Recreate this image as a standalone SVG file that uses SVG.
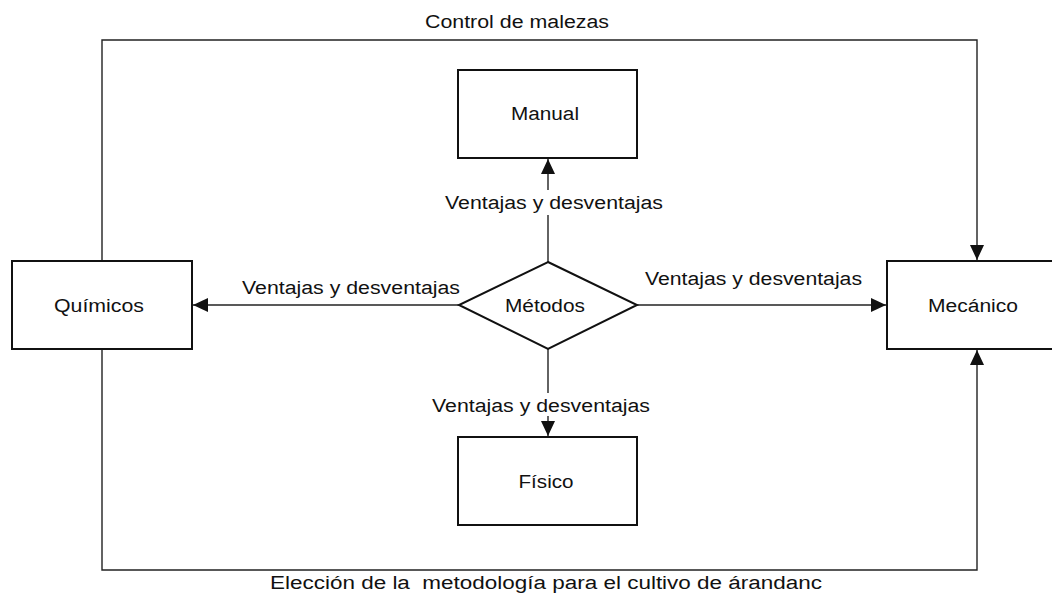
<svg xmlns="http://www.w3.org/2000/svg" width="1052" height="595" viewBox="0 0 1052 595">
<style>
text{font-family:"Liberation Sans",Arial,sans-serif;font-size:18px;fill:#111;}
.box{fill:#fff;stroke:#111;stroke-width:2;}
.ln{fill:none;stroke:#222;stroke-width:1.4;}
.bg{fill:#fff;stroke:none;}
</style>
<defs>
<marker id="arr" markerUnits="userSpaceOnUse" markerWidth="16" markerHeight="14" refX="15" refY="7" orient="auto">
<path d="M0,0 L15,7 L0,14 Z" fill="#111"/>
</marker>
</defs>
<rect width="1052" height="595" fill="#fff"/>
<g id="connectors">
<polyline class="ln" points="102,261 102,40 977,40 977,260" marker-end="url(#arr)"/>
<polyline class="ln" points="102,349 102,570 977,570 977,350" marker-end="url(#arr)"/>
<line class="ln" x1="548" y1="262" x2="548" y2="159" marker-end="url(#arr)"/>
<line class="ln" x1="548" y1="349" x2="548" y2="436" marker-end="url(#arr)"/>
<line class="ln" x1="459" y1="305" x2="193" y2="305" marker-end="url(#arr)"/>
<line class="ln" x1="637" y1="305" x2="886" y2="305" marker-end="url(#arr)"/>
</g>
<g id="n-quimicos"><rect class="box" x="12" y="261" width="180" height="88"/><text x="99" y="312" text-anchor="middle" textLength="90" lengthAdjust="spacingAndGlyphs">Químicos</text></g>
<g id="n-mecanico"><rect class="box" x="887" y="261" width="175" height="88"/><text x="973" y="312" text-anchor="middle" textLength="90" lengthAdjust="spacingAndGlyphs">Mecánico</text></g>
<g id="n-manual"><rect class="box" x="458" y="70" width="179" height="88"/><text x="545" y="120" text-anchor="middle" textLength="68" lengthAdjust="spacingAndGlyphs">Manual</text></g>
<g id="n-fisico"><rect class="box" x="458" y="437" width="179" height="88"/><text x="546" y="488" text-anchor="middle" textLength="55" lengthAdjust="spacingAndGlyphs">Físico</text></g>
<g id="n-metodos"><polygon class="box" points="548,262 637,305 548,349 459,305"/><text x="545" y="312" text-anchor="middle" textLength="80" lengthAdjust="spacingAndGlyphs">Métodos</text></g>
<g id="labels">
<rect class="bg" x="443" y="190" width="222" height="25"/>
<text x="445" y="209" textLength="218" lengthAdjust="spacingAndGlyphs">Ventajas y desventajas</text>
<rect class="bg" x="430" y="393" width="222" height="23"/>
<text x="432" y="412" textLength="218" lengthAdjust="spacingAndGlyphs">Ventajas y desventajas</text>
<rect class="bg" x="238" y="278" width="232" height="20"/>
<text x="242" y="294" textLength="218" lengthAdjust="spacingAndGlyphs">Ventajas y desventajas</text>
<text x="645" y="285" textLength="217" lengthAdjust="spacingAndGlyphs">Ventajas y desventajas</text>
</g>
<g id="titles">
<text x="425" y="28" textLength="184" lengthAdjust="spacingAndGlyphs">Control de malezas</text>
<text x="270" y="589" textLength="552" lengthAdjust="spacingAndGlyphs" xml:space="preserve">Elección de la  metodología para el cultivo de árandanc</text>
</g>
</svg>
